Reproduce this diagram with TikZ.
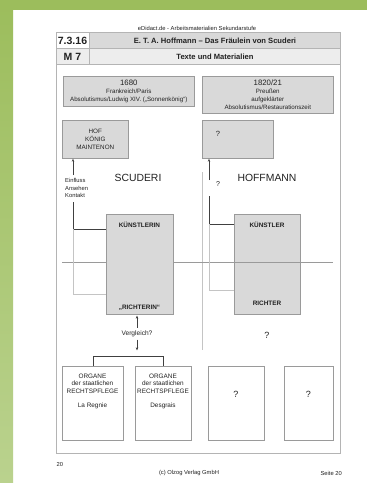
\documentclass[tikz,border=0pt]{standalone}
\usepackage{fontspec}
\setmainfont{Liberation Sans}
\usetikzlibrary{arrows.meta}
\definecolor{gtop}{HTML}{9CBD5C}
\definecolor{gbot}{HTML}{BAD28E}
\definecolor{boxfill}{HTML}{D9D9D9}
\definecolor{boxline}{HTML}{9A9A9A}
\definecolor{frameline}{HTML}{B4B4B4}
\definecolor{rowtwo}{HTML}{EDEDED}
\definecolor{lightline}{HTML}{C4C4C4}
\definecolor{txt}{HTML}{222222}
\begin{document}
\begin{tikzpicture}[x=1pt,y=-1pt,
  greybox/.style={draw=boxline, fill=boxfill, line width=0.6pt, inner sep=0pt, anchor=north west},
  whitebox/.style={draw=boxline, fill=white, line width=0.6pt, inner sep=0pt, anchor=north west},
  lbl/.style={inner sep=0pt, text=txt, align=center},
  conn/.style={draw=black!75, line width=0.6pt},
  lconn/.style={draw=lightline, line width=0.6pt},
  arr/.style={-{Stealth[length=3.2pt,width=2.4pt]}}
]
\useasboundingbox (0,0) rectangle (367,483);
\fill[white] (0,0) rectangle (367,483);
\shade[top color=gtop, bottom color=gbot] (0,0) rectangle (13,483);
\fill[gtop] (0,0) rectangle (367,10);

% header
\node[lbl, font=\fontsize{5.8}{7}\selectfont] (hdr) at (197,28) {eDidact.de - Arbeitsmaterialien Sekundarstufe};

% table head
\fill[boxfill] (89,32) rectangle (340,48);
\fill[rowtwo] (56,48) rectangle (340,64);
\draw[frameline, line width=0.7pt] (56,32) rectangle (340,453);
\draw[frameline, line width=0.7pt] (56,48) -- (340,48) (56,64) -- (340,64) (89,32) -- (89,64);
\node[lbl, font=\bfseries\fontsize{10.5}{12}\selectfont] (num) at (72.5,40.5) {7.3.16};
\node[lbl, font=\bfseries\fontsize{7.6}{9}\selectfont] (title) at (215,40.5) {E. T. A. Hoffmann – Das Fräulein von Scuderi};
\node[lbl, font=\bfseries\fontsize{10.5}{12}\selectfont] (mnum) at (72.5,56.5) {M 7};
\node[lbl, font=\bfseries\fontsize{7.6}{9}\selectfont] (sub) at (215,56.5) {Texte und Materialien};

% top boxes
\node[greybox, minimum width=131pt, minimum height=30pt] (t1) at (63,76) {};
\node[lbl, font=\fontsize{6.2}{7.8}\selectfont] (t1txt) at (t1.center) {{\fontsize{7.8}{8}\selectfont 1680}\\Frankreich/Paris\\Absolutismus/Ludwig XIV. („Sonnenkönig“)};
\node[greybox, minimum width=131pt, minimum height=37pt] (t2) at (202,76) {};
\node[lbl, font=\fontsize{6.2}{7.8}\selectfont] (t2txt) at (t2.center) {{\fontsize{7.8}{8}\selectfont 1820/21}\\Preußen\\aufgeklärter\\Absolutismus/Restaurationszeit};

% second row boxes
\node[greybox, minimum width=66pt, minimum height=38pt] (hof) at (62,120) {};
\node[lbl, font=\fontsize{6.3}{8}\selectfont] (hoftxt) at (hof.center) {HOF\\KÖNIG\\MAINTENON};
\node[greybox, minimum width=71pt, minimum height=38pt] (q1) at (202,120) {};
\node[lbl, font=\fontsize{7.5}{8}\selectfont] (q1txt) at (218,134) {?};

% background lines
\draw[lightline, line width=0.6pt] (202,172) -- (202,350);
\draw[boxline, line width=0.6pt] (62,262) -- (333,262);

% titles
\node[lbl, font=\fontsize{10.4}{12}\selectfont] (scud) at (138,178) {SCUDERI};
\node[lbl, font=\fontsize{10.4}{12}\selectfont] (hoff) at (267,178) {HOFFMANN};

% left connectors
\coordinate (la) at (73,175);
\coordinate (lb) at (73,202);
\coordinate (lc) at (73,229);
\coordinate (ld) at (73,294);
\node[lbl, font=\fontsize{5.8}{7.4}\selectfont, align=left, anchor=north west] (einf) at (65,178.5) {Einfluss\\Ansehen\\Kontakt};

\node[greybox, minimum width=67pt, minimum height=100pt] (kin) at (106,214) {};
\node[lbl, font=\bfseries\fontsize{6.4}{8}\selectfont] (kintxt) at (139.5,225) {KÜNSTLERIN};
\node[lbl, font=\bfseries\fontsize{6.4}{8}\selectfont] (rin) at (139.5,307.5) {„RICHTERIN“};

\draw[conn, arr] (la) -- (hof.south -| la);
\draw[conn] (lb) -- (lc) -- (lc -| kin.west);
\draw[lconn] (lc) -- (ld) -- (ld -| kin.west);

% right connectors
\coordinate (ra) at (209,180);
\coordinate (rb) at (209,196);
\coordinate (rc) at (209,224);
\coordinate (rd) at (209,290);
\node[lbl, font=\fontsize{7}{8}\selectfont] (q2) at (218,184.5) {?};
\node[greybox, minimum width=66pt, minimum height=48pt] (kler) at (234,214) {};
\node[greybox, minimum width=66pt, minimum height=52pt] (rich) at (234,262) {};
\node[lbl, font=\bfseries\fontsize{6.4}{8}\selectfont] (klertxt) at (267,225) {KÜNSTLER};
\node[lbl, font=\bfseries\fontsize{6.4}{8}\selectfont] (richtxt) at (267,303) {RICHTER};
\draw[conn, arr] (ra) -- (q1.south -| ra);
\draw[conn] (rb) -- (rc) -- (rc -| kler.west);
\draw[lconn] (rc) -- (rd) -- (rd -| rich.west);
\node[lbl, font=\fontsize{9}{10}\selectfont] (q3) at (267,335) {?};

% Vergleich
\node[lbl, font=\fontsize{6.6}{8}\selectfont] (vgl) at (137,334) {Vergleich?};
\coordinate (va) at (137,327.5);
\coordinate (vt) at (137,315.5);
\coordinate (vb) at (137,339.5);
\coordinate (vc) at (137,350.5);
\draw[conn, arr] (va) -- (vt);
\draw[conn, arr] (vb) -- (vc);

% bottom boxes
\node[whitebox, minimum width=61pt, minimum height=74pt] (b1) at (62,366) {};
\node[whitebox, minimum width=56pt, minimum height=74pt] (b2) at (135,366) {};
\node[whitebox, minimum width=56pt, minimum height=74pt] (b3) at (208,366) {};
\node[whitebox, minimum width=49pt, minimum height=74pt] (b4) at (284,366) {};
\draw[conn] (b1.north -| 93,0) -- (93,356) -- (163,356) -- (b2.north -| 163,0);

\node[lbl, font=\fontsize{6.4}{7.6}\selectfont, anchor=north] (b1txt) at (92.5,373.5) {ORGANE\\der staatlichen\\RECHTSPFLEGE\\[7pt]La Regnie};
\node[lbl, font=\fontsize{6.4}{7.6}\selectfont, anchor=north] (b2txt) at (163,373.5) {ORGANE\\der staatlichen\\RECHTSPFLEGE\\[7pt]Desgrais};
\node[lbl, font=\fontsize{9}{10}\selectfont] (b3txt) at (236,394) {?};
\node[lbl, font=\fontsize{9}{10}\selectfont] (b4txt) at (308.5,394) {?};

% footer
\node[lbl, font=\fontsize{5.8}{7}\selectfont, anchor=west] (pg) at (56.5,464) {20};
\node[lbl, font=\fontsize{5.8}{7}\selectfont] (copy) at (189,473) {(c) Olzog Verlag GmbH};
\node[lbl, font=\fontsize{5.8}{7}\selectfont, anchor=east] (seite) at (342,473) {Seite 20};
\end{tikzpicture}
\end{document}
